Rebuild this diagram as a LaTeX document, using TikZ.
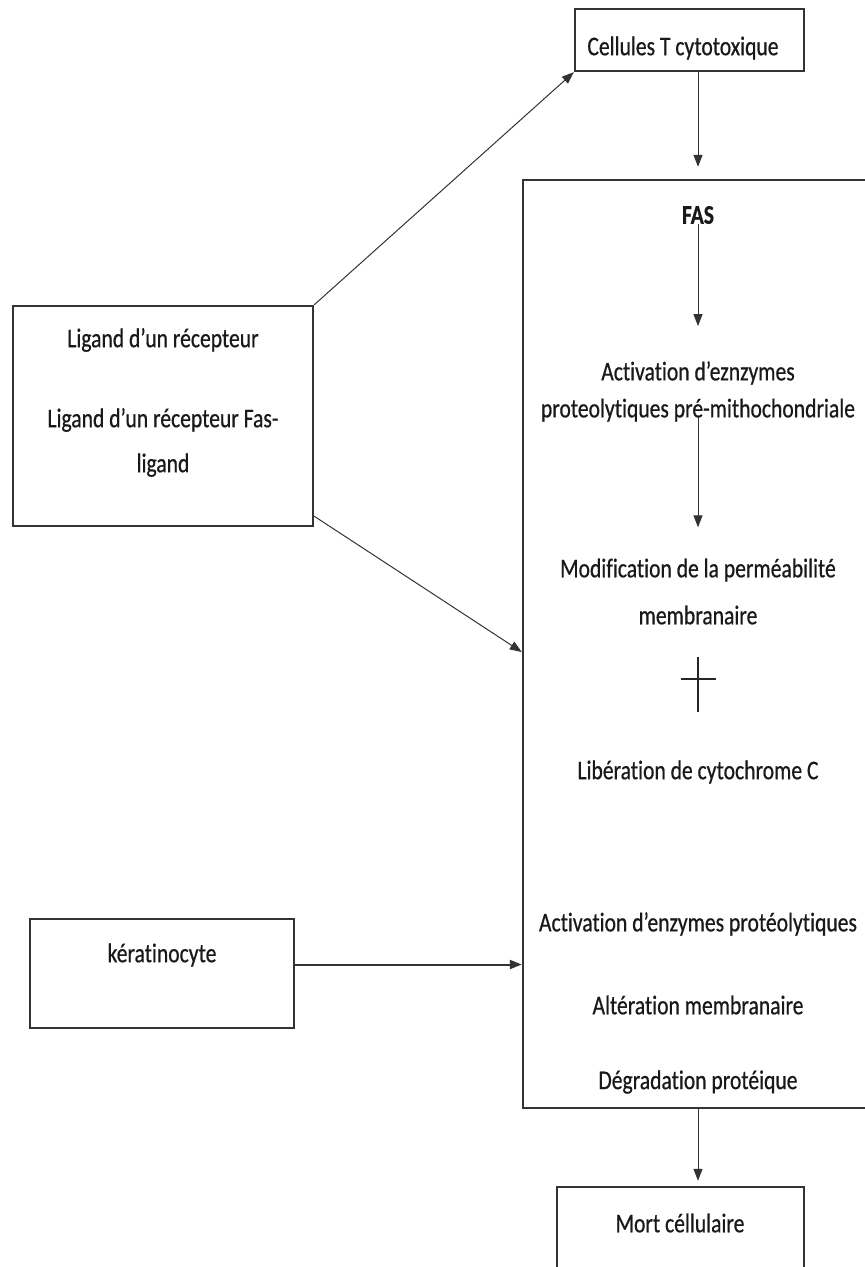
\documentclass[tikz,border=0pt]{standalone}
\usepackage{fontspec}
\setmainfont{Carlito}[FakeStretch=0.8, FakeBold=0.6, Ligatures=NoCommon]
\usetikzlibrary{arrows.meta,calc}

\tikzset{
  box/.style={draw=black!80, line width=2.4pt, inner sep=0pt},
  txt/.style={inner sep=0pt, align=center, text=black!90, font=\fontsize{27}{30}\selectfont},
  arr/.style={-{Triangle[length=12pt,width=9pt]}, line width=1pt, black!80},
  thickarr/.style={-{Triangle[length=12pt,width=9pt]}, line width=2pt, black!80}
}

\begin{document}
\begin{tikzpicture}[x=1pt, y=-1pt]
        \useasboundingbox (0,0) rectangle (865,1267);
        \clip (0,0) rectangle (865,1267);
        % Boxes
        \node[box, minimum width=229, minimum height=62] (cellT) at (689.5,40) {};
        \node[box, minimum width=300, minimum height=220] (ligand) at (163,416) {};
        \node[box, minimum width=357, minimum height=928] (big) at (701.5,644) {};
        \node[box, minimum width=264, minimum height=109] (kera) at (162,973.5) {};
        \node[box, minimum width=247, minimum height=103] (mort) at (680.5,1238.5) {};
        % Texts in the boxes
        \node[txt] (cellTtxt) at (683,48) {Cellules T cytotoxique};
        \node[txt] (lig1) at (163,340) {Ligand d’un récepteur};
        \node[txt, font=\fontsize{27}{45}\selectfont] (lig2) at (163,442.5) {Ligand d’un récepteur Fas-\\ligand};
        \node[txt] (keratxt) at (162,955) {kératinocyte};
        \node[txt] (morttxt) at (680,1223) {Mort céllulaire};
        % Steps inside the big box
        \node[txt, font=\bfseries\fontsize{27}{30}\selectfont] (fas) at (698,215) {FAS};
        \node[txt, font=\fontsize{27}{37}\selectfont] (act1) at (698,391.5) {Activation d’eznzymes\\proteolytiques pré-mithochondriale};
        \node[txt, font=\fontsize{27}{47}\selectfont] (modif) at (698,591.5) {Modification de la perméabilité\\membranaire};
        \node[txt] (lib) at (698,772) {Libération de cytochrome C};
        \node[txt] (act2) at (698,924) {Activation d’enzymes protéolytiques};
        \node[txt] (alter) at (698,1005) {Altération membranaire};
        \node[txt] (degr) at (698,1082) {Dégradation protéique};
        % Plus sign
        \coordinate (plus) at (698,682);
        \draw[line width=1.2pt, black!85] ($(plus)+(-17,-3)$) -- ($(plus)+(18,-3)$);
        \draw[line width=1.2pt, black!85] ($(plus)+(0,-25)$) -- ($(plus)+(0,30)$);
        % Connectors
        \draw[arr, shorten >=12pt] (cellT.south -| fas) -- (big.north -| fas);
        \draw[arr, shorten >=35pt] (fas.south) -- (act1.north);
        \draw[arr, shorten <=-5pt, shorten >=31pt] (act1.south) -- (modif.north);
        \draw[arr] (ligand.north east) -- (cellT.south west);
        \draw[arr] ($(ligand.south east)+(0,-11)$) -- ($(big.west)+(0,8)$);
        \draw[thickarr] ($(kera.east)+(0,-9)$) coordinate (k1) -- (k1 -| big.west);
        \draw[arr, shorten >=5pt] (big.south -| fas) -- (mort.north -| fas);
    \end{tikzpicture}
\end{document}
